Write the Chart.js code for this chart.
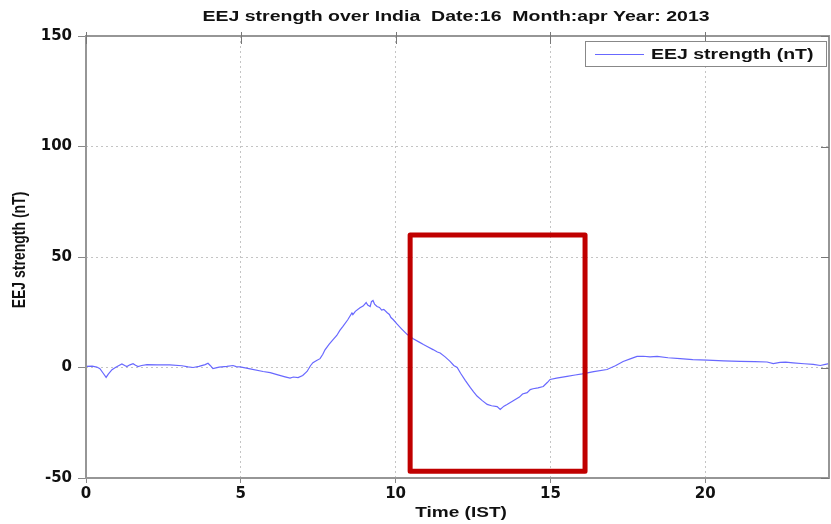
<!DOCTYPE html>
<html>
<head>
<meta charset="utf-8">
<script src="https://cdn.jsdelivr.net/npm/chart.js@4"></script>
<style>
  html,body{margin:0;padding:0;background:#fff;}
  #wrap{width:831px;height:524px;position:relative;}
</style>
</head>
<body>
<div id="wrap"><canvas id="eej"></canvas></div>
<script>
// time of day (IST, hours) and EEJ strength (nT)
const tHours = [0.00,0.20,0.35,0.45,0.55,0.65,0.72,0.84,0.95,1.05,1.16,1.25,1.32,1.42,1.52,1.60,1.68,1.80,1.97,2.30,
  2.71,3.10,3.30,3.46,3.65,3.85,3.94,4.02,4.10,4.30,4.55,4.75,4.85,4.98,5.30,5.72,5.95,6.17,6.40,6.59,
  6.70,6.85,7.00,7.14,7.25,7.33,7.45,7.56,7.65,7.72,7.85,7.98,8.10,8.20,8.30,8.45,8.59,8.62,8.70,8.85,
  8.95,9.05,9.10,9.18,9.22,9.27,9.32,9.40,9.48,9.55,9.62,9.73,9.80,9.85,9.92,10.05,10.20,10.37,10.57,10.75,
  10.90,11.02,11.21,11.35,11.44,11.60,11.76,11.88,11.99,12.10,12.25,12.41,12.52,12.63,12.80,12.96,13.10,13.28,13.38,13.50,
  13.60,13.80,14.00,14.10,14.25,14.35,14.44,14.60,14.77,14.90,14.99,15.20,15.54,15.80,16.03,16.40,16.83,17.10,17.35,17.60,
  17.80,18.00,18.22,18.45,18.80,19.19,19.60,20.07,20.60,21.13,21.60,22.00,22.20,22.42,22.60,22.84,23.20,23.49,23.72,23.88,24.00];
const eejNT = [0.5,0.6,0.2,-0.5,-2.5,-4.5,-3.0,-1.0,0.0,0.8,1.6,0.9,0.4,1.2,1.7,1.0,0.4,0.9,1.3,1.2,
  1.2,0.8,0.3,0.0,0.5,1.3,1.9,0.8,-0.5,0.2,0.5,0.9,0.4,0.3,-0.6,-1.8,-2.3,-3.2,-4.1,-4.8,
  -4.3,-4.6,-3.6,-1.8,0.8,2.2,3.2,4.0,6.0,8.0,10.5,12.6,14.5,16.8,18.6,21.5,24.7,23.9,25.4,27.0,
  27.8,29.4,28.3,27.6,29.8,30.3,28.7,27.6,27.2,26.0,26.3,24.8,24.0,22.6,21.7,19.6,17.4,15.0,13.0,11.6,
  10.4,9.5,8.1,7.0,6.6,4.8,2.8,0.9,0.0,-2.6,-5.8,-9.0,-11.0,-12.9,-15.0,-16.7,-17.3,-17.7,-19.0,-17.5,
  -16.7,-15.0,-13.4,-12.0,-11.4,-10.0,-9.6,-9.2,-8.6,-6.8,-5.4,-4.8,-4.0,-3.4,-2.9,-1.9,-0.9,0.8,2.7,4.0,
  5.0,5.1,4.8,5.0,4.4,4.0,3.6,3.3,3.0,2.8,2.7,2.5,1.8,2.3,2.4,2.1,1.7,1.4,0.9,1.4,1.8];

const xTicks = [0, 5, 10, 15, 20];
const yTicks = [-50, 0, 50, 100, 150];
const xRange = [0, 24];
const yRange = [-50, 150];

// highlighted window (hours, nT)
const boxHours = [10.47, 16.12];
const boxNT = [-47, 60];

const titleText = 'EEJ strength over India  Date:16  Month:apr Year: 2013';
const seriesLabel = 'EEJ strength (nT)';
const xTitle = 'Time (IST)';
const yTitle = 'EEJ strength (nT)';

const LINE_BLUE = 'rgb(104,104,255)';
const TEXT_FONT = 'Arial, "Liberation Sans", sans-serif';

function wideText(ctx, txt, x, y, sx, align){
  ctx.save();
  ctx.translate(x, y);
  ctx.scale(sx, 1);
  ctx.textAlign = align;
  ctx.textBaseline = 'middle';
  ctx.fillText(txt, 0, 0);
  ctx.restore();
}

const decor = {
  id: 'decor',
  afterDatasetsDraw(chart){
    const {ctx, chartArea:a, scales:{x, y}} = chart;
    // red box
    ctx.save();
    ctx.strokeStyle = '#c00000';
    ctx.lineWidth = 5;
    ctx.lineJoin = 'round';
    const x0 = x.getPixelForValue(boxHours[0]), x1 = x.getPixelForValue(boxHours[1]);
    const y0 = y.getPixelForValue(boxNT[1]), y1 = y.getPixelForValue(boxNT[0]);
    ctx.strokeRect(x0, y0, x1 - x0, y1 - y0);
    ctx.restore();

    // frame + inner ticks
    ctx.save();
    ctx.strokeStyle = '#969696';
    ctx.lineWidth = 2;
    ctx.strokeRect(a.left, a.top, a.right - a.left, a.bottom - a.top);
    ctx.lineWidth = 1;
    ctx.strokeStyle = '#777';
    ctx.beginPath();
    xTicks.forEach(v => {
      const px = Math.round(x.getPixelForValue(v)) + 0.5;
      ctx.moveTo(px, a.top - 4); ctx.lineTo(px, a.top + 8);
    });
    yTicks.forEach(v => {
      const py = Math.round(y.getPixelForValue(v)) + 0.5;
      ctx.moveTo(a.right - 8, py); ctx.lineTo(a.right, py);
    });
    ctx.stroke();
    ctx.restore();

    // legend box
    ctx.save();
    ctx.fillStyle = '#fff';
    ctx.fillRect(585, 41, 241, 25);
    ctx.strokeStyle = '#888';
    ctx.lineWidth = 1;
    ctx.strokeRect(585.5, 41.5, 241, 25);
    ctx.strokeStyle = LINE_BLUE;
    ctx.beginPath(); ctx.moveTo(595, 54.5); ctx.lineTo(644, 54.5); ctx.stroke();
    ctx.fillStyle = '#111';
    ctx.font = 'bold 15px ' + TEXT_FONT;
    wideText(ctx, seriesLabel, 651, 55, 1.3, 'left');
    ctx.restore();
  },
  afterDraw(chart){
    const {ctx} = chart;
    ctx.save();
    ctx.fillStyle = '#111';
    ctx.font = 'bold 15px ' + TEXT_FONT;
    wideText(ctx, titleText, 456, 17, 1.3, 'center');
    wideText(ctx, xTitle, 461, 513, 1.27, 'center');
    ctx.font = 'bold 14px ' + TEXT_FONT;
    ctx.translate(20, 250);
    ctx.rotate(-Math.PI / 2);
    ctx.scale(1, 1.28);
    ctx.textAlign = 'center';
    ctx.textBaseline = 'middle';
    ctx.fillText(yTitle, 0, 0);
    ctx.restore();
  }
};

const tickFont = {family:'"DejaVu Sans", sans-serif', size:15, weight:'bold'};

new Chart(document.getElementById('eej'), {
  type: 'line',
  data: {
    datasets: [{
      label: seriesLabel,
      data: tHours.map((t, i) => ({x: t, y: eejNT[i]})),
      borderColor: LINE_BLUE,
      borderWidth: 1.2,
      pointRadius: 0,
      tension: 0,
      fill: false
    }]
  },
  options: {
    responsive: true,
    maintainAspectRatio: false,
    animation: false,
    layout: {padding: {top: 36, right: 2, left: 0, bottom: 0}},
    plugins: {legend: {display: false}, title: {display: false}, tooltip: {enabled: false}},
    scales: {
      x: {
        type: 'linear', min: xRange[0], max: xRange[1],
        afterBuildTicks: s => { s.ticks = xTicks.map(v => ({value: v})); },
        afterFit: s => { s.height = 46; },
        ticks: {font: tickFont, color: '#111', padding: 2, maxRotation: 0},
        grid: {color: '#c4c4c4', lineWidth: 1, tickLength: 5, tickColor: '#888', tickBorderDash: []},
        border: {display: false, dash: [2, 3]}
      },
      y: {
        min: yRange[0], max: yRange[1],
        afterBuildTicks: s => { s.ticks = yTicks.map(v => ({value: v})); },
        afterFit: s => { s.width = 86; },
        ticks: {font: tickFont, color: '#111', padding: 6},
        grid: {color: '#c4c4c4', lineWidth: 1, tickLength: 8, tickColor: '#888', tickBorderDash: []},
        border: {display: false, dash: [2, 3]}
      }
    }
  },
  plugins: [decor]
});
</script>
</body>
</html>
